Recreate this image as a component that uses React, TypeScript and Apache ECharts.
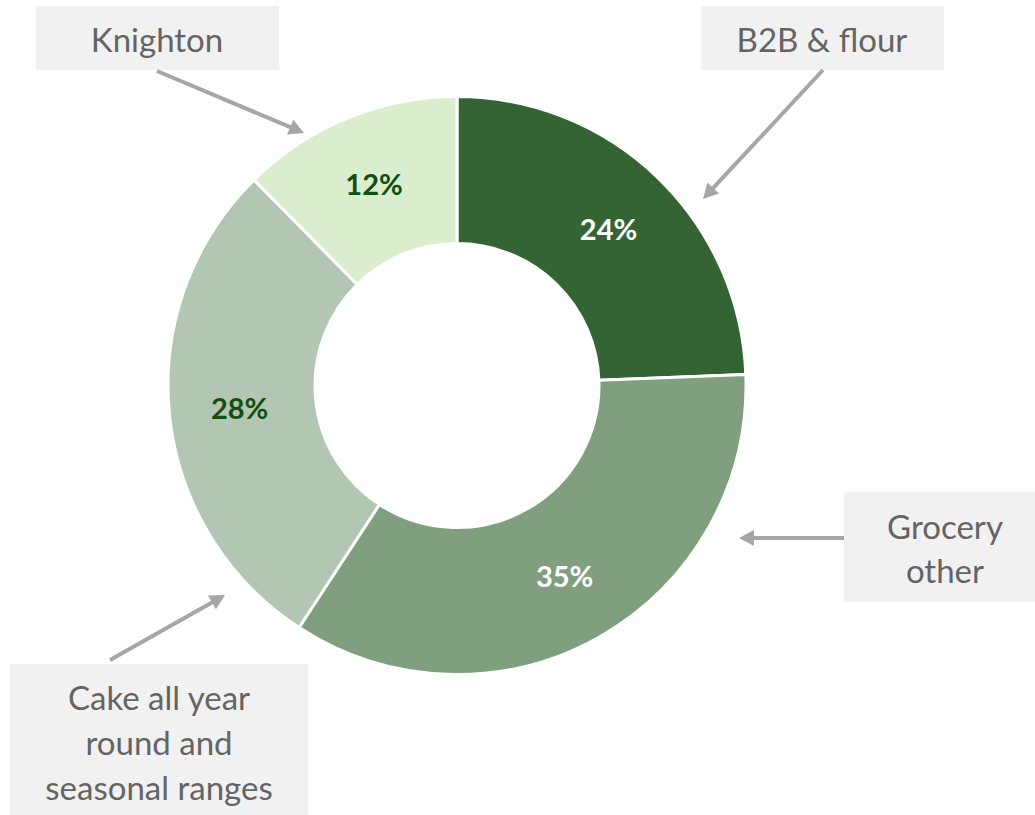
import React, { useEffect, useRef } from "react";
import * as echarts from "echarts";

const categories = ["B2B & flour", "Grocery other", "Cake all year round and seasonal ranges", "Knighton"];
const values = [24.4, 34.8, 28.4, 12.4];
const sliceColors = ["#346434", "#7F9F7F", "#B3C6B3", "#DAEDCD"];
const labelColors = ["#FFFFFF", "#FFFFFF", "#134F13", "#134F13"];

const FONT = "Lato";
const TEXT_COLOR = "#646464";
const BOX_COLOR = "#F1F1F1";
const ARROW_COLOR = "#A6A6A6";

function arrow(x1: number, y1: number, x2: number, y2: number): any[] {
  const dx = x2 - x1;
  const dy = y2 - y1;
  const len = Math.sqrt(dx * dx + dy * dy);
  const ux = dx / len;
  const uy = dy / len;
  const headLen = 15;
  const headW = 8;
  const bx = x2 - ux * headLen;
  const by = y2 - uy * headLen;
  return [
    {
      type: "line",
      shape: { x1, y1, x2: bx + ux * 2, y2: by + uy * 2 },
      style: { stroke: ARROW_COLOR, lineWidth: 4 },
      silent: true,
    },
    {
      type: "polygon",
      shape: {
        points: [
          [x2, y2],
          [bx - uy * headW, by + ux * headW],
          [bx + uy * headW, by - ux * headW],
        ],
      },
      style: { fill: ARROW_COLOR },
      silent: true,
    },
  ];
}

function box(x: number, y: number, w: number, h: number, text: string, tx: number, ty: number, lineHeight = 45): any[] {
  return [
    { type: "rect", shape: { x, y, width: w, height: h }, style: { fill: BOX_COLOR }, silent: true },
    {
      type: "text",
      x: tx,
      y: ty,
      style: {
        text,
        fill: TEXT_COLOR,
        fontFamily: FONT,
        fontSize: 33,
        align: "center",
        verticalAlign: "middle",
        lineHeight,
      },
      silent: true,
    },
  ];
}

export default function App() {
  const ref = useRef<HTMLDivElement>(null);
  useEffect(() => {
    document.body.style.margin = "0";
    if (!ref.current) return;
    const chart = echarts.init(ref.current, undefined, { renderer: "svg" });
    const graphics = [
      ...box(36, 6, 243, 64, "Knighton", 157, 39),
      ...box(701, 6, 243, 64, "B2B & flour", 822, 39),
      ...box(844, 492, 191, 110, "Grocery\nother", 945, 548, 44),
      ...box(10, 664, 298, 151, "Cake all year\nround and\nseasonal ranges", 159, 742, 45),
      ...arrow(157, 71, 304, 133),
      ...arrow(823, 70, 703, 199),
      ...arrow(844, 538, 739, 538),
      ...arrow(110, 660, 225, 595),
    ];
    chart.setOption({
      animation: false,
      series: [
        {
          type: "pie",
          center: [457, 385.5],
          radius: [142, 289],
          startAngle: 90,
          clockwise: true,
          avoidLabelOverlap: false,
          itemStyle: { borderColor: "#FFFFFF", borderWidth: 3 },
          label: {
            show: true,
            position: "inside",
            formatter: (p: any) => `${Math.round(p.value)}%`,
            fontFamily: FONT,
            fontWeight: "bold",
            fontSize: 29,
          },
          labelLine: { show: false },
          emphasis: { disabled: true },
          data: categories.map((name, i) => ({
            name,
            value: values[i],
            itemStyle: { color: sliceColors[i] },
            label: { color: labelColors[i] },
          })),
        },
      ],
      graphic: graphics,
    });
    return () => chart.dispose();
  }, []);
  return <div ref={ref} style={{ width: 1035, height: 815 }} />;
}
